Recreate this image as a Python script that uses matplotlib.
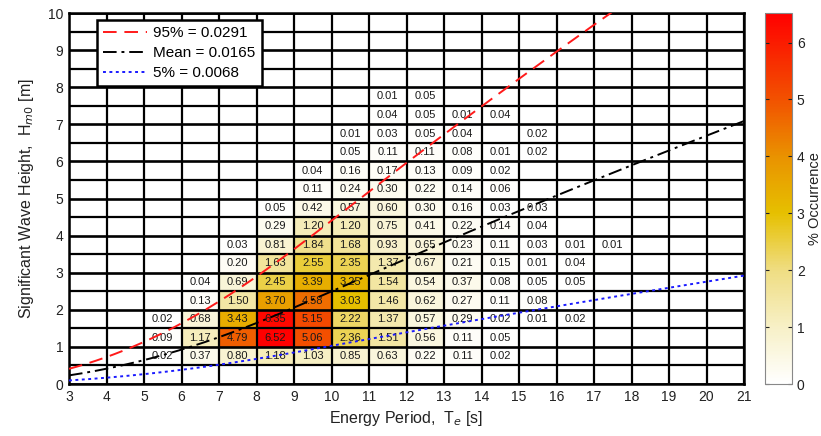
import numpy as np
import matplotlib
matplotlib.use("Agg")
import matplotlib.pyplot as plt
from matplotlib.colors import LinearSegmentedColormap

plt.rcParams['font.family'] = ['Liberation Sans', 'DejaVu Sans']

# ---- data ----
te_edges = list(range(3, 22))            # energy period bin edges [s]
hm0_edges = [i * 0.5 for i in range(21)]  # wave height bin edges [m]

# occurrence [%] per Hm0 bin: lower Hm0 edge -> (first Te bin lower edge, values)
occ_rows = {
    0.5: (5, [0.02, 0.37, 0.80, 1.18, 1.03, 0.85, 0.63, 0.22, 0.11, 0.02]),
    1.0: (5, [0.09, 1.17, 4.79, 6.52, 5.06, 2.36, 1.51, 0.56, 0.11, 0.05]),
    1.5: (5, [0.02, 0.68, 3.43, 6.35, 5.15, 2.22, 1.37, 0.57, 0.29, 0.02, 0.01, 0.02]),
    2.0: (6, [0.13, 1.50, 3.70, 4.58, 3.03, 1.46, 0.62, 0.27, 0.11, 0.08]),
    2.5: (6, [0.04, 0.69, 2.45, 3.39, 3.25, 1.54, 0.54, 0.37, 0.08, 0.05, 0.05]),
    3.0: (7, [0.20, 1.63, 2.55, 2.35, 1.37, 0.67, 0.21, 0.15, 0.01, 0.04]),
    3.5: (7, [0.03, 0.81, 1.84, 1.68, 0.93, 0.65, 0.23, 0.11, 0.03, 0.01, 0.01]),
    4.0: (8, [0.29, 1.20, 1.20, 0.75, 0.41, 0.22, 0.14, 0.04]),
    4.5: (8, [0.05, 0.42, 0.57, 0.60, 0.30, 0.16, 0.03, 0.03]),
    5.0: (9, [0.11, 0.24, 0.30, 0.22, 0.14, 0.06]),
    5.5: (9, [0.04, 0.16, 0.17, 0.13, 0.09, 0.02]),
    6.0: (10, [0.05, 0.11, 0.11, 0.08, 0.01, 0.02]),
    6.5: (10, [0.01, 0.03, 0.05, 0.04, None, 0.02]),
    7.0: (11, [0.04, 0.05, 0.01, 0.04]),
    7.5: (11, [0.01, 0.05]),
}

# wave steepness contours
steep_names = ['95%', 'Mean', '5%']
steep_values = [0.0291, 0.0165, 0.0068]
water_depth = 50.0  # m

# ---- build grid ----
nx = len(te_edges) - 1
ny = len(hm0_edges) - 1
grid = np.full((ny, nx), np.nan)
for h_lo, (t0, vals) in occ_rows.items():
    r = hm0_edges.index(h_lo)
    c0 = te_edges.index(t0)
    for k, v in enumerate(vals):
        if v is not None:
            grid[r, c0 + k] = v

cmap = LinearSegmentedColormap.from_list('occ', [
    (0.0, '#ffffff'),
    (1 / 6.52, '#f7f0c6'),
    (2 / 6.52, '#efdd82'),
    (3 / 6.52, '#e6c000'),
    (4 / 6.52, '#e99200'),
    (5 / 6.52, '#f25200'),
    (1.0, '#ff0000'),
])
cmap.set_bad('white')

fig = plt.figure(figsize=(8.21, 4.36), dpi=100)
ax = fig.add_axes([69 / 821, 1 - 384 / 436, (744 - 69) / 821, (384 - 13) / 436])
cax = fig.add_axes([765 / 821, 1 - 384 / 436, 27 / 821, (384 - 13) / 436])

mesh = ax.pcolormesh(te_edges, hm0_edges, np.ma.masked_invalid(grid), cmap=cmap,
                     vmin=0, vmax=6.52, shading='flat')

# cell text
for r in range(ny):
    for c in range(nx):
        v = grid[r, c]
        if not np.isnan(v):
            ax.text((te_edges[c] + te_edges[c + 1]) / 2,
                    (hm0_edges[r] + hm0_edges[r + 1]) / 2,
                    f'{v:.2f}', ha='center', va='center', fontsize=8,
                    color='#1a1a1a', zorder=3)

# grid lines
for x in te_edges:
    ax.axvline(x, color='black', lw=1.6, zorder=2)
for y in hm0_edges:
    ax.axhline(y, color='black', lw=1.6 if y % 1 else 1.9, zorder=2)


def wavelength(T, h):
    omega = 2 * np.pi / T
    k = omega ** 2 / 9.81
    for _ in range(200):
        k = omega ** 2 / (9.81 * np.tanh(k * h))
    return 2 * np.pi / k


T = np.linspace(3, 21, 300)
L = wavelength(T, water_depth)
styles = [dict(color='#ff1a1a', ls=(0, (7, 4))),
          dict(color='black', ls=(0, (7, 2.5, 1.5, 2.5))),
          dict(color='#1a1aff', ls=(0, (1.5, 1.8)))]
for name, s, st in zip(steep_names, steep_values, styles):
    ax.plot(T, s * L, lw=1.4, label=f'{name} = {s}', zorder=4, **st)

ax.set_xlim(3, 21)
ax.set_ylim(0, 10)
ax.set_xticks(range(3, 22))
ax.set_yticks(range(0, 11))
ax.tick_params(direction='in', labelsize=10, colors='#222222', length=0, pad=4)
for sp in ax.spines.values():
    sp.set_linewidth(1.8)
ax.set_xlabel('Energy Period,  T$_e$ [s]', fontsize=11.5, color='#222222', labelpad=4)
ax.set_ylabel('Significant Wave Height,  H$_{m0}$ [m]', fontsize=11.5, color='#222222',
              labelpad=9)

leg = ax.legend(loc='upper left', bbox_to_anchor=(0.041, 0.981), fontsize=11,
                fancybox=False, framealpha=1, edgecolor='black', handlelength=2.9,
                borderpad=0.4, labelspacing=0.4, handletextpad=0.4, borderaxespad=0)
leg.get_frame().set_linewidth(1.8)
leg.set_zorder(5)

cb = fig.colorbar(mesh, cax=cax, ticks=range(0, 7))
cb.outline.set_edgecolor('#888888')
cb.outline.set_linewidth(0.8)
cax.tick_params(direction='in', length=3, labelsize=10, colors='#222222', left=True, right=True)
cb.set_label('% Occurrence', fontsize=10.5, color='#222222', labelpad=2)

fig.savefig('out.png', dpi=100)
